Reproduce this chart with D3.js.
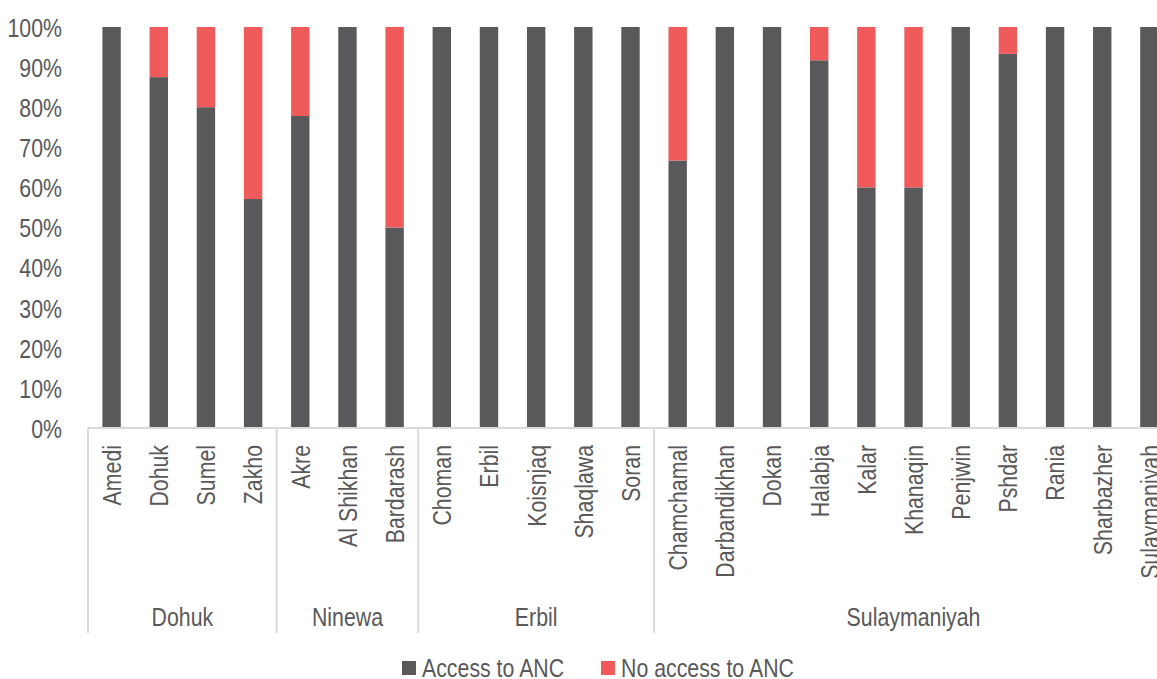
<!DOCTYPE html>
<html>
<head>
<meta charset="utf-8">
<script src="https://cdn.jsdelivr.net/npm/d3@7"></script>
<style>
  html, body { margin: 0; padding: 0; background: #fff; }
  svg text { font-family: "Liberation Sans", Arial, sans-serif; fill: #595959; }
</style>
</head>
<body>
<svg id="chart" width="1157" height="679"></svg>
<script>
// Districts, grouped by governorate
const districts = ["Amedi", "Dohuk", "Sumel", "Zakho",
  "Akre", "Al Shikhan", "Bardarash",
  "Choman", "Erbil", "Koisnjaq", "Shaqlawa", "Soran",
  "Chamchamal", "Darbandikhan", "Dokan", "Halabja", "Kalar", "Khanaqin",
  "Penjwin", "Pshdar", "Rania", "Sharbazher", "Sulaymaniyah"];
const governorates = ["Dohuk", "Ninewa", "Erbil", "Sulaymaniyah"];
const governorateSizes = [4, 3, 5, 11];

// Share of respondents with / without access to antenatal care (%)
const accessANC = [100, 87.5, 80, 57.1,
  77.8, 100, 50,
  100, 100, 100, 100, 100,
  66.7, 100, 100, 91.7, 60, 60,
  100, 93.3, 100, 100, 100];
const noAccessANC = accessANC.map(v => +(100 - v).toFixed(1));

const seriesNames = ["Access to ANC", "No access to ANC"];
const seriesColors = ["#59595b", "#ef5a5b"];
const yTicks = [0, 10, 20, 30, 40, 50, 60, 70, 80, 90, 100];

// Narrow-looking type: regular face squeezed horizontally
const FONT = 26, SQUEEZE = 0.82;

const svg = d3.select("#chart");
const plotLeft = 88, plotRight = 1173, plotTop = 27, plotBottom = 428;

const x = d3.scaleBand().domain(districts).range([plotLeft, plotRight])
  .paddingInner(0.61).paddingOuter(0.305);
const y = d3.scaleLinear().domain([0, 100]).range([plotBottom, plotTop]);

const rows = districts.map((d, i) => ({ district: d, access: accessANC[i], noAccess: noAccessANC[i] }));
const stacked = d3.stack().keys(["access", "noAccess"])(rows);

// Stacked bars
svg.append("g").selectAll("g").data(stacked).join("g")
  .attr("fill", (s, i) => seriesColors[i])
  .selectAll("rect").data(s => s).join("rect")
  .attr("x", d => x(d.data.district))
  .attr("width", x.bandwidth())
  .attr("y", d => y(d[1]))
  .attr("height", d => y(d[0]) - y(d[1]));

// Y axis: labels only
const yAxis = d3.axisLeft(y).tickValues(yTicks).tickFormat(d => d + "%").tickSize(0).tickPadding(0);
const yg = svg.append("g").attr("transform", "translate(62,0)").call(yAxis);
yg.select(".domain").remove();
yg.selectAll("text")
  .attr("font-size", FONT).attr("x", 0).attr("dy", "0.36em")
  .attr("transform", `scale(${SQUEEZE},1)`)
  .style("font-family", null);

// X axis baseline
const step = x.step();
svg.append("line")
  .attr("x1", plotLeft).attr("x2", plotRight)
  .attr("y1", plotBottom).attr("y2", plotBottom)
  .attr("stroke", "#d9d9d9").attr("stroke-width", 2);

// District labels, rotated
const xAxis = d3.axisBottom(x).tickSize(0).tickPadding(0);
const xg = svg.append("g").attr("transform", `translate(0,${plotBottom})`).call(xAxis);
xg.select(".domain").remove();
xg.selectAll("text")
  .attr("font-size", FONT)
  .attr("transform", `rotate(-90) scale(${SQUEEZE},1)`)
  .attr("text-anchor", "end")
  .attr("x", -17 / SQUEEZE).attr("y", 0).attr("dy", "0.36em")
  .style("font-family", null);

// Governorate separators and labels
let start = 0;
const bounds = [plotLeft];
governorateSizes.forEach(n => { start += n; bounds.push(plotLeft + step * start); });
svg.append("g").selectAll("line").data(bounds.slice(0, -1)).join("line")
  .attr("x1", d => d).attr("x2", d => d)
  .attr("y1", plotBottom).attr("y2", 633)
  .attr("stroke", "#d9d9d9").attr("stroke-width", 2);
svg.append("g").selectAll("text").data(governorates).join("text")
  .attr("transform", (g, i) => `translate(${(bounds[i] + bounds[i + 1]) / 2},626) scale(${SQUEEZE},1)`)
  .attr("text-anchor", "middle")
  .attr("font-size", FONT)
  .text(g => g);

// Legend
const legendX = [402, 601];
const lg = svg.append("g").selectAll("g").data(seriesNames).join("g")
  .attr("transform", (d, i) => `translate(${legendX[i]},661)`);
lg.append("rect").attr("width", 14).attr("height", 14).attr("fill", (d, i) => seriesColors[i]);
lg.append("text")
  .attr("transform", `translate(20,7) scale(${SQUEEZE},1)`)
  .attr("dy", "0.36em").attr("font-size", FONT).text(d => d);
</script>
</body>
</html>
